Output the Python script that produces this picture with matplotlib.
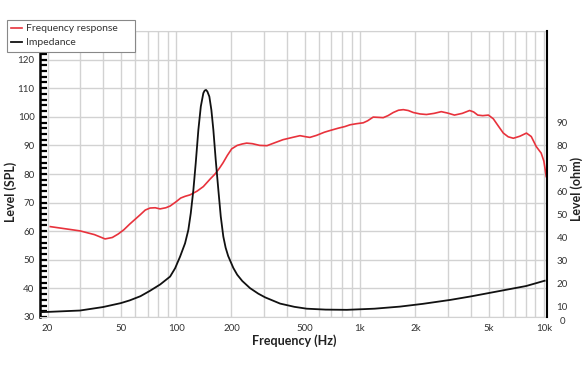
import matplotlib
matplotlib.use("agg")
import matplotlib.pyplot as plt
from matplotlib.ticker import FixedLocator, MultipleLocator, NullFormatter

plt.rcParams["font.family"] = ["Lato", "DejaVu Sans"]

# frequency response (Hz, dB SPL)
spl_freq = [20.7, 30.1, 36, 41.1, 45, 48.4, 52, 56, 63.7, 68, 72.2, 77, 81.8, 88,
            92.8, 100, 106, 112, 119.1, 130, 140.7, 153, 162.9, 172, 180, 190,
            200.7, 215, 229, 242, 260, 285, 312, 340, 381.5, 430, 472, 510, 534,
            580, 640, 687, 760, 829, 883, 960, 1042, 1100, 1180, 1260, 1338, 1420,
            1517, 1620, 1720, 1830, 1950, 2120, 2299, 2530, 2767, 3000, 3265,
            3600, 3946, 4150, 4370, 4650, 4995, 5310, 5650, 6020, 6400, 6826,
            7400, 8040, 8540, 9090, 9670, 10000, 10300]
spl_level = [61.6, 60.1, 58.8, 57.3, 57.8, 59.0, 60.5, 62.5, 65.7, 67.4, 68.1, 68.2,
             67.8, 68.2, 68.8, 70.3, 71.6, 72.2, 72.7, 74.0, 75.6, 78.2, 80.0, 82.0,
             83.9, 86.5, 88.8, 90.0, 90.5, 90.8, 90.6, 90.0, 89.9, 90.8, 92.0, 92.8,
             93.4, 93.0, 92.8, 93.5, 94.6, 95.2, 96.0, 96.6, 97.2, 97.6, 97.9, 98.6,
             99.9, 99.8, 99.7, 100.4, 101.5, 102.3, 102.5, 102.2, 101.5, 101.0,
             100.8, 101.2, 101.8, 101.3, 100.6, 101.2, 102.2, 101.7, 100.6, 100.4,
             100.6, 99.3, 96.8, 94.3, 93.0, 92.5, 93.2, 94.3, 93.1, 89.6, 87.3,
             84.5, 79.1]

# impedance (Hz, ohm)
imp_freq = [18.2, 20, 30, 40, 50, 56, 64, 72, 82, 92.8, 98.8, 105.1, 111.9, 116.6,
            120.2, 124.2, 127.9, 132.2, 136.3, 140.7, 143, 145.5, 148, 151.7,
            155.6, 159.5, 164.3, 169.8, 175, 180.7, 186, 192, 204.9, 215, 229,
            252.4, 280, 305, 368, 440, 513, 650, 848, 1200, 1650, 2200, 3100, 4000,
            5700, 8000, 10100]
imp_ohm = [7.7, 7.8, 8.4, 9.9, 11.6, 12.8, 14.6, 16.9, 19.7, 23.1, 26.7, 31.7,
           37.5, 43.3, 50.5, 60.6, 72.2, 86.6, 96.7, 102.5, 103.6, 103.9, 103.2,
           101.0, 95.2, 86.6, 73.6, 60.6, 49.1, 40.4, 35.6, 32.0, 26.8, 23.9, 21.2,
           18.1, 15.7, 14.1, 11.4, 10.0, 9.2, 8.8, 8.7, 9.2, 10.1, 11.3, 13.0,
           14.5, 16.8, 19.0, 21.3]

xtick_vals = [20, 50, 100, 200, 500, 1000, 2000, 5000, 10000]
xtick_labels = ["20", "50", "100", "200", "500", "1k", "2k", "5k", "10k"]
grid_vals = [20, 30, 40, 50, 60, 70, 80, 90, 100, 200, 300, 400, 500, 600, 700,
             800, 900, 1000, 2000, 3000, 4000, 5000, 6000, 7000, 8000, 9000, 10000]

fig = plt.figure(figsize=(5.88, 3.72), dpi=100)
ax = fig.add_axes([40 / 588, 1 - 317 / 372, 507 / 588, 286 / 372])
ax2 = ax.twinx()

gridc = "#d2d2d2"
textc = "#333333"

ax.set_xscale("log")
ax.set_xlim(18.2, 10400)
ax.set_ylim(30, 130)

ax.xaxis.set_major_locator(FixedLocator(xtick_vals))
ax.set_xticklabels(xtick_labels)
ax.xaxis.set_minor_locator(FixedLocator(grid_vals))
ax.xaxis.set_minor_formatter(NullFormatter())
ax.tick_params(axis="x", which="both", length=0, pad=5, labelsize=7, labelcolor=textc)
for v in grid_vals:
    ax.axvline(v, color=gridc, lw=1.0, zorder=0)

ax.yaxis.set_major_locator(FixedLocator(range(30, 121, 10)))
ax.yaxis.set_minor_locator(MultipleLocator(2))
ax.tick_params(axis="y", which="both", direction="in", length=5, width=1.6,
               color="black", labelsize=7, labelcolor=textc, pad=4)
for v in range(30, 131, 10):
    ax.axhline(v, color=gridc, lw=1.0, zorder=0)

for s in ["top", "bottom"]:
    ax.spines[s].set_color(gridc)
ax.spines["left"].set_linewidth(1.8)
ax.spines["left"].set_color("black")
for s in ["top", "bottom", "left"]:
    ax2.spines[s].set_visible(False)
ax2.spines["right"].set_linewidth(1.5)
ax2.spines["right"].set_color("black")
ax.spines["right"].set_visible(False)

l1, = ax.plot(spl_freq, spl_level, color="#e8323c", lw=1.2, zorder=3)

ax2.set_ylim(5.6, 129.4)
ax2.yaxis.set_major_locator(FixedLocator(range(10, 91, 10)))
ax2.tick_params(axis="y", length=0, pad=10.8, labelsize=7, labelcolor=textc)
for lab in ax2.get_yticklabels():
    lab.set_ha("center")
ax2.annotate("0", xy=(1, 0), xycoords="axes fraction", xytext=(10.8, -3),
             textcoords="offset points", ha="center", va="center", fontsize=7,
             color=textc)
l2, = ax2.plot(imp_freq, imp_ohm, color="#111111", lw=1.3, zorder=3)

ax.set_xlabel("Frequency (Hz)", fontsize=9, fontweight="bold", color="#222222")
ax.xaxis.set_label_coords(0.501, -0.06)
ax.set_ylabel("Level (SPL)", fontsize=9, fontweight="bold", color="#222222")
ax.yaxis.set_label_coords(-0.045, 0.437)
ax2.set_ylabel("Level (ohm)", fontsize=9, fontweight="bold", color="#222222")
ax2.yaxis.set_label_coords(1.045, 0.448)

leg = fig.legend([l1, l2], ["Frequency response", "Impedance"], loc="upper left",
                 bbox_to_anchor=(7 / 588, 1 - 54 / 372, 128 / 588, 34 / 372),
                 mode="expand", fontsize=7.5, fancybox=False,
                 edgecolor="#888888", framealpha=1, handlelength=1.0,
                 handletextpad=0.4, borderpad=0.4, labelspacing=0.45,
                 borderaxespad=0)
leg.get_frame().set_linewidth(0.8)
for t in leg.get_texts():
    t.set_color(textc)

fig.savefig("out.png", dpi=100)
